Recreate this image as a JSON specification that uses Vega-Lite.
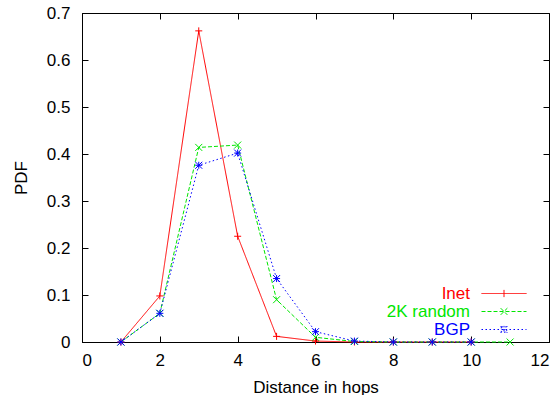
{
  "$schema": "https://vega.github.io/schema/vega-lite/v6.json",
  "width": 467,
  "height": 329,
  "autosize": {"type": "none"},
  "padding": {"left": 82, "top": 13, "right": 11, "bottom": 53},
  "background": "white",
  "config": {
    "view": {"stroke": "black", "strokeWidth": 1},
    "font": "Liberation Sans",
    "axis": {
      "domainColor": "black",
      "tickColor": "black",
      "labelColor": "black",
      "titleColor": "black",
      "labelFont": "Liberation Sans",
      "titleFont": "Liberation Sans",
      "labelFontSize": 17,
      "titleFontSize": 17,
      "titleFontWeight": "normal",
      "grid": false,
      "tickSize": -6
    },
    "legend": {
      "orient": "none",
      "legendX": 388,
      "legendY": 272,
      "title": null,
      "labelFont": "Liberation Sans",
      "labelFontSize": 17,
      "symbolType": "M-5,0H5",
      "symbolSize": 81,
      "symbolStrokeWidth": 1,
      "rowPadding": 0
    }
  },
  "data": {
    "values": [
      {"series": "Inet", "hops": 1, "pdf": 0.0},
      {"series": "Inet", "hops": 2, "pdf": 0.098},
      {"series": "Inet", "hops": 3, "pdf": 0.662},
      {"series": "Inet", "hops": 4, "pdf": 0.225},
      {"series": "Inet", "hops": 5, "pdf": 0.012},
      {"series": "Inet", "hops": 6, "pdf": 0.002},
      {"series": "Inet", "hops": 7, "pdf": 0.0},
      {"series": "Inet", "hops": 8, "pdf": 0.0},
      {"series": "Inet", "hops": 9, "pdf": 0.0},
      {"series": "Inet", "hops": 10, "pdf": 0.0},
      {"series": "2K random", "hops": 1, "pdf": 0.0},
      {"series": "2K random", "hops": 2, "pdf": 0.061},
      {"series": "2K random", "hops": 3, "pdf": 0.414},
      {"series": "2K random", "hops": 4, "pdf": 0.419},
      {"series": "2K random", "hops": 5, "pdf": 0.09},
      {"series": "2K random", "hops": 6, "pdf": 0.01},
      {"series": "2K random", "hops": 7, "pdf": 0.001},
      {"series": "2K random", "hops": 8, "pdf": 0.0},
      {"series": "2K random", "hops": 9, "pdf": 0.0},
      {"series": "2K random", "hops": 10, "pdf": 0.0},
      {"series": "2K random", "hops": 11, "pdf": 0.0},
      {"series": "BGP", "hops": 1, "pdf": 0.0},
      {"series": "BGP", "hops": 2, "pdf": 0.061},
      {"series": "BGP", "hops": 3, "pdf": 0.376},
      {"series": "BGP", "hops": 4, "pdf": 0.402},
      {"series": "BGP", "hops": 5, "pdf": 0.135},
      {"series": "BGP", "hops": 6, "pdf": 0.022},
      {"series": "BGP", "hops": 7, "pdf": 0.002},
      {"series": "BGP", "hops": 8, "pdf": 0.0},
      {"series": "BGP", "hops": 9, "pdf": 0.0},
      {"series": "BGP", "hops": 10, "pdf": 0.0}
    ]
  },
  "resolve": {"axis": {"x": "independent", "y": "independent"}},
  "layer": [
    {
      "mark": {"type": "line", "strokeWidth": 1},
      "encoding": {
        "x": {
          "field": "hops", "type": "quantitative",
          "scale": {"domain": [0, 12], "nice": false},
          "axis": {"values": [0, 2, 4, 6, 8, 10, 12], "title": "Distance in hops", "labelPadding": 16, "titlePadding": 11}
        },
        "y": {
          "field": "pdf", "type": "quantitative",
          "scale": {"domain": [0, 0.7], "nice": false},
          "axis": {"values": [0, 0.1, 0.2, 0.3, 0.4, 0.5, 0.6, 0.7], "format": ".1~f", "title": "PDF", "labelPadding": 18, "titlePadding": 16}
        },
        "color": {
          "field": "series", "type": "nominal",
          "scale": {"domain": ["Inet", "2K random", "BGP"], "range": ["#ff0000", "#00e600", "#0000ff"]},
          "legend": {
            "encode": {
              "labels": {"update": {"fill": {"scale": "color", "field": "value"}, "align": {"value": "right"}, "x": {"value": 0}}},
              "symbols": {"update": {"x": {"value": 34}}}
            }
          }
        },
        "strokeDash": {
          "field": "series", "type": "nominal",
          "scale": {"domain": ["Inet", "2K random", "BGP"], "range": [[1, 0], [4, 2], [1.5, 2.5]]}
        }
      }
    },
    {
      "transform": [{"filter": "datum.series == 'Inet'"}],
      "mark": {"type": "point", "filled": false, "size": 49, "strokeWidth": 1, "opacity": 1, "color": "#ff0000", "shape": "M-1,0H1M0,-1V1"},
      "encoding": {
        "x": {
          "field": "hops", "type": "quantitative",
          "axis": {"orient": "top", "values": [0, 2, 4, 6, 8, 10, 12], "labels": false, "title": null, "domain": false}
        },
        "y": {
          "field": "pdf", "type": "quantitative",
          "axis": {"orient": "right", "values": [0, 0.1, 0.2, 0.3, 0.4, 0.5, 0.6, 0.7], "labels": false, "title": null, "domain": false}
        }
      }
    },
    {
      "transform": [{"filter": "datum.series == '2K random'"}],
      "mark": {"type": "point", "filled": false, "size": 49, "strokeWidth": 1, "opacity": 1, "color": "#00e600", "shape": "M-1,-1L1,1M-1,1L1,-1"},
      "encoding": {
        "x": {"field": "hops", "type": "quantitative", "axis": null},
        "y": {"field": "pdf", "type": "quantitative", "axis": null}
      }
    },
    {
      "transform": [{"filter": "datum.series == 'BGP'"}],
      "mark": {"type": "point", "filled": false, "size": 49, "strokeWidth": 1, "opacity": 1, "color": "#0000ff", "shape": "M-1,0H1M0,-1V1M-1,-1L1,1M-1,1L1,-1"},
      "encoding": {
        "x": {"field": "hops", "type": "quantitative", "axis": null},
        "y": {"field": "pdf", "type": "quantitative", "axis": null}
      }
    },
    {
      "transform": [{"filter": "false"}],
      "mark": {"type": "point", "filled": false, "strokeWidth": 1, "opacity": 1},
      "encoding": {
        "x": {"field": "hops", "type": "quantitative", "axis": null},
        "y": {"field": "pdf", "type": "quantitative", "axis": null},
        "color": {"field": "series", "type": "nominal", "legend": null},
        "shape": {
          "field": "series", "type": "nominal", "legend": null,
          "scale": {"domain": ["Inet", "2K random", "BGP"], "range": ["M-5,0H5M0,-0.8V0.8", "M-5,0H5M-0.75,-0.75L0.75,0.75M-0.75,0.75L0.75,-0.75", "M-5,0H5M0,-0.8V0.8M-0.75,-0.75L0.75,0.75M-0.75,0.75L0.75,-0.75M-0.6,-0.6H0.6V0.6H-0.6Z"]}
        }
      }
    }
  ]
}
